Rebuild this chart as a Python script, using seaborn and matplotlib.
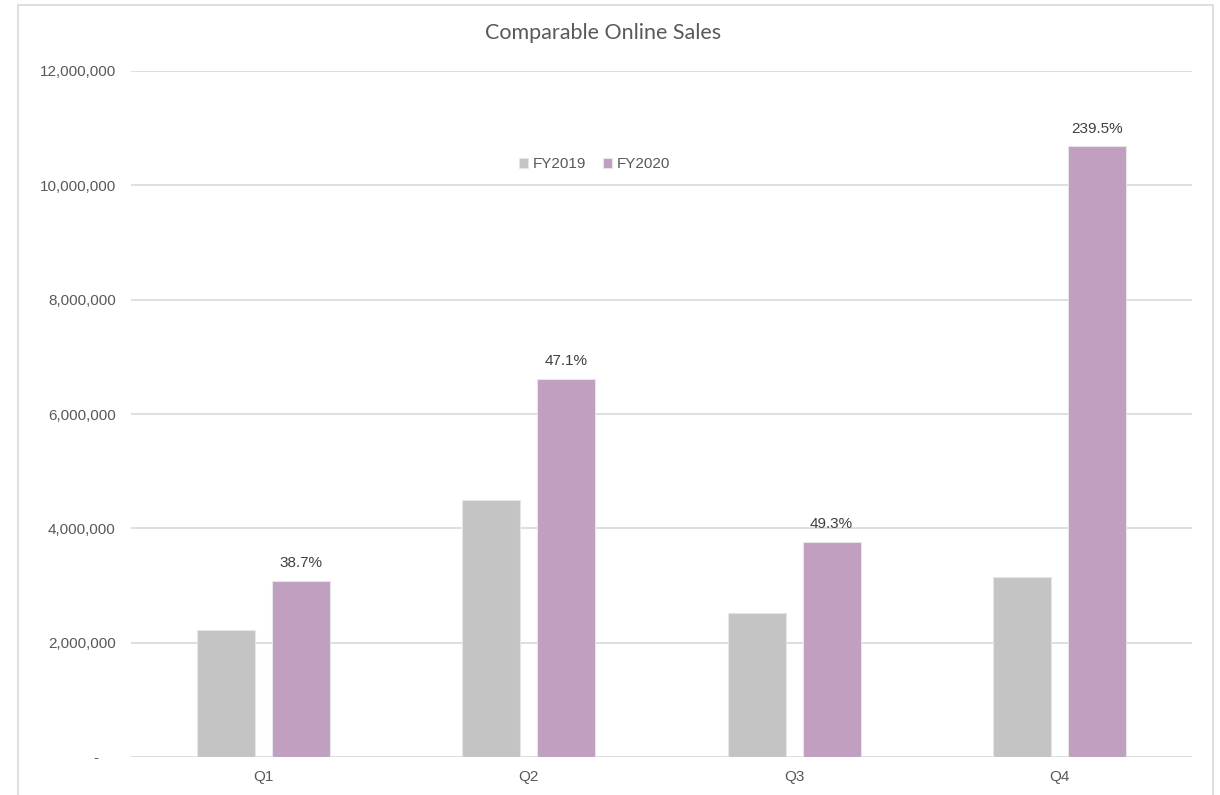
import pandas as pd
import numpy as np
import matplotlib
matplotlib.use('Agg')
import matplotlib.pyplot as plt
import seaborn as sns
from matplotlib.ticker import FuncFormatter
from matplotlib.patches import Rectangle

# --- Data ---
quarters = ['Q1', 'Q2', 'Q3', 'Q4']
fy2019 = [2220000, 4490000, 2520000, 3140000]
fy2020 = [3080000, 6620000, 3760000, 10680000]
growth_labels = ['38.7%', '47.1%', '49.3%', '239.5%']
series_names = ['FY2019', 'FY2020']
COLORS = ['#C4C4C4', '#C09FC0']

df = pd.DataFrame({
    'Quarter': quarters * 2,
    'Year': [series_names[0]] * 4 + [series_names[1]] * 4,
    'Sales': fy2019 + fy2020,
})

sns.set_theme(style='white')
plt.rcParams['font.family'] = ['Liberation Sans', 'DejaVu Sans']

fig = plt.figure(figsize=(12.2, 7.95), dpi=100)
ax = fig.add_axes([131 / 1220, 38 / 795, 1061 / 1220, 686 / 795])

sns.barplot(data=df, x='Quarter', y='Sales', hue='Year', palette=COLORS,
            width=0.566, gap=0.227, ax=ax, edgecolor='#E6E6E6', linewidth=0.8,
            saturation=1, legend=True)

# percentage labels above FY2020 bars
for bar, txt in zip(ax.containers[1], growth_labels):
    ax.text(bar.get_x() + bar.get_width() / 2, bar.get_height() + 190000, txt,
            ha='center', va='bottom', fontsize=11, color='#404040')

ax.set_ylim(0, 12000000)
ax.set_xlim(-0.5, 3.5)
ax.set_yticks(np.arange(0, 12000001, 2000000))
# accounting style: zero shown as a dash with padding after it
ax.yaxis.set_major_formatter(FuncFormatter(lambda v, p: '-    ' if v == 0 else f'{int(v):,}'))
ax.grid(axis='y', color='#D9D9D9', linewidth=1.2)
ax.set_axisbelow(True)
for s in ax.spines.values():
    s.set_visible(False)
ax.tick_params(axis='both', length=0, labelsize=11, labelcolor='#595959')
ax.tick_params(axis='y', pad=11)
ax.tick_params(axis='x', pad=9)
ax.set_xlabel('')
ax.set_ylabel('')

leg = ax.legend(loc='center', bbox_to_anchor=(0.437, 0.864), ncol=2, frameon=False,
                fontsize=11, handlelength=0.6, handleheight=0.6, handletextpad=0.3,
                columnspacing=1.1)
for t in leg.get_texts():
    t.set_color('#595959')

fig.text(0.494, 0.958, 'Comparable Online Sales', ha='center', va='center',
         fontsize=15.5, color='#595959', family=['Lato', 'DejaVu Sans'])

# chart border
fig.patches.append(Rectangle((18 / 1220, -0.01), 1195 / 1220, 1 - 5 / 795 + 0.01,
                             transform=fig.transFigure, fill=False,
                             edgecolor='#D9D9D9', linewidth=1.2))

plt.savefig('out.png', dpi=100)
